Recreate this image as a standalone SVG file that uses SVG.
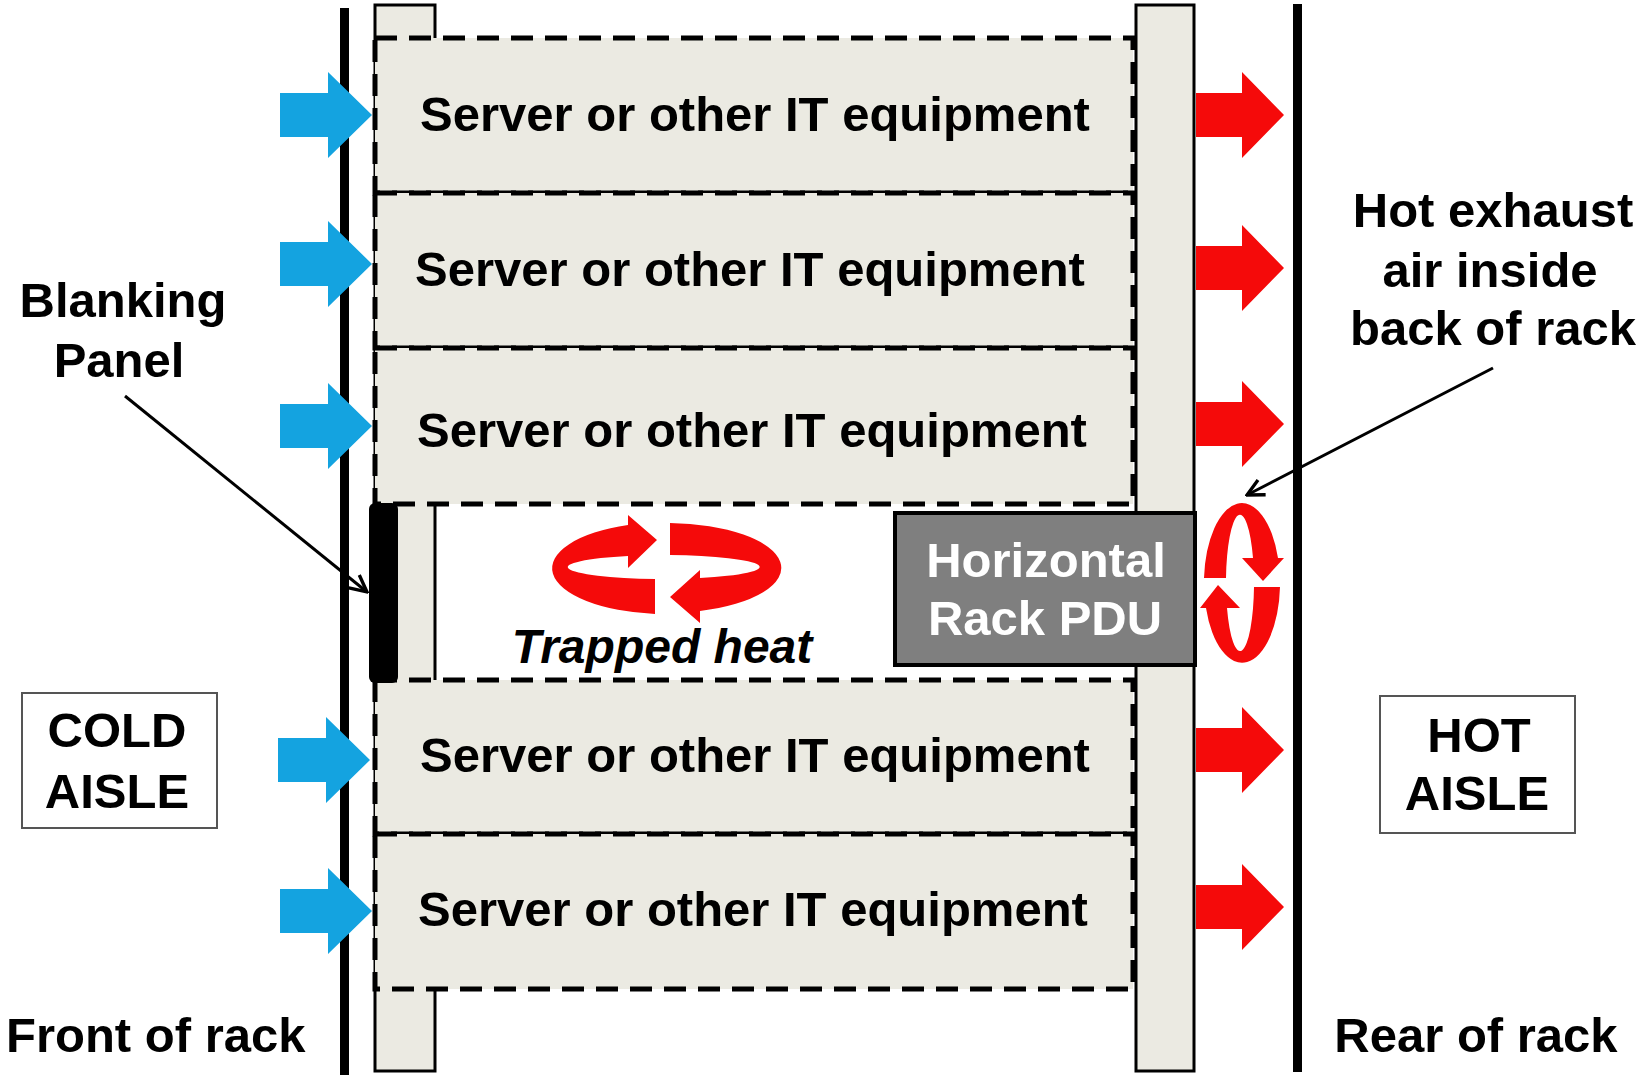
<svg xmlns="http://www.w3.org/2000/svg" width="1639" height="1075" viewBox="0 0 1639 1075">
<style>
.t{font-family:"Liberation Sans",Arial,sans-serif;font-weight:bold;font-size:49px;fill:#000;text-anchor:middle}
.srv{fill:#ebeae2;stroke:#000;stroke-width:5;stroke-dasharray:22 12}
.rail{fill:#ebeae2;stroke:#000;stroke-width:3}
.blue{fill:#14a3e0}
.red{fill:#f50a0a}
.lbl{fill:#fff;stroke:#555;stroke-width:2}
.lead{stroke:#000;stroke-width:3;fill:none}
</style>
<defs>
<marker id="open" viewBox="0 0 12 12" refX="11" refY="6" markerWidth="20" markerHeight="20" markerUnits="userSpaceOnUse" orient="auto">
<path d="M1,1 L11,6 L1,11" fill="none" stroke="#000" stroke-width="2"/>
</marker>
<path id="bArrow" d="M0,-22 L48,-22 L48,-43 L92,0 L48,43 L48,22 L0,22 Z"/>
<path id="rArrow" d="M0,-22 L46,-22 L46,-43 L88,0 L46,43 L46,22 L0,22 Z"/>
</defs>
<rect width="1639" height="1075" fill="#fff"/>

<g id="front-line"><rect x="340" y="8" width="9" height="1067" fill="#000"/></g>
<g id="rear-line"><rect x="1293" y="4" width="9" height="1068" fill="#000"/></g>

<g id="left-rail"><rect class="rail" x="375" y="5" width="60" height="1066"/></g>
<g id="right-rail"><rect class="rail" x="1136" y="5" width="58" height="1066"/></g>

<g id="server1"><rect class="srv" x="375" y="38" width="758" height="155"/>
<text class="t" x="755" y="131">Server or other IT equipment</text></g>
<g id="server2"><rect class="srv" x="375" y="193" width="758" height="155"/>
<text class="t" x="750" y="286">Server or other IT equipment</text></g>
<g id="server3"><rect class="srv" x="375" y="348" width="758" height="156"/>
<text class="t" x="752" y="447">Server or other IT equipment</text></g>
<g id="server5"><rect class="srv" x="375" y="680" width="758" height="154"/>
<text class="t" x="755" y="772">Server or other IT equipment</text></g>
<g id="server6"><rect class="srv" x="375" y="834" width="758" height="155"/>
<text class="t" x="753" y="926">Server or other IT equipment</text></g>

<g id="blanking-panel"><rect x="369" y="503" width="29" height="180" rx="6" fill="#000"/></g>

<g id="pdu"><rect x="895" y="513" width="300" height="152" fill="#7f7f7f" stroke="#000" stroke-width="4"/>
<text class="t" x="1046" y="577" style="fill:#fff">Horizontal</text>
<text class="t" x="1045" y="635" style="fill:#fff">Rack PDU</text></g>

<g id="trapped-heat">
<path class="red" d="M655,614 A115 46 0 0 1 628,525 L628,515 L657,540 L628,568 L628,556 A98 12 0 0 0 655,579 Z"/>
<path class="red" d="M670,523 A115 45 0 0 1 700,611 L700,623 L670,597 L700,570 L700,578 A98 12 0 0 0 670,555 Z"/>
<text class="t" x="662" y="663" style="font-style:italic;font-size:48px">Trapped heat</text>
</g>

<g id="hot-recirculation">
<path class="red" d="M1204,578 A38 80 0 0 1 1278,558 L1284,558 L1263,581 L1242,558 L1253,558 A14 68 0 0 0 1226,578 Z"/>
<path class="red" d="M1280,587 A38 80 0 0 1 1206,608 L1200,608 L1218,585 L1240,608 L1227,608 A14 68 0 0 0 1254,587 Z"/>
</g>

<g id="cold-air">
<use href="#bArrow" class="blue" x="280" y="115"/>
<use href="#bArrow" class="blue" x="280" y="264"/>
<use href="#bArrow" class="blue" x="280" y="426"/>
<use href="#bArrow" class="blue" x="278" y="760"/>
<use href="#bArrow" class="blue" x="280" y="911"/>
</g>
<g id="hot-air">
<use href="#rArrow" class="red" x="1196" y="115"/>
<use href="#rArrow" class="red" x="1196" y="268"/>
<use href="#rArrow" class="red" x="1196" y="424"/>
<use href="#rArrow" class="red" x="1196" y="750"/>
<use href="#rArrow" class="red" x="1196" y="907"/>
</g>

<g id="connectors">
<line class="lead" x1="125" y1="396" x2="367" y2="592" marker-end="url(#open)"/>
<line class="lead" x1="1493" y1="368" x2="1247" y2="495" marker-end="url(#open)"/>
</g>

<g id="blanking-label">
<text class="t" x="123" y="317">Blanking</text>
<text class="t" x="119" y="377">Panel</text>
</g>
<g id="hot-exhaust-label">
<text class="t" x="1493" y="227">Hot exhaust</text>
<text class="t" x="1490" y="287">air inside</text>
<text class="t" x="1493" y="345">back of rack</text>
</g>
<g id="cold-aisle"><rect class="lbl" x="22" y="693" width="195" height="135"/>
<text class="t" x="117" y="747">COLD</text>
<text class="t" x="117" y="808">AISLE</text></g>
<g id="hot-aisle"><rect class="lbl" x="1380" y="696" width="195" height="137"/>
<text class="t" x="1479" y="752">HOT</text>
<text class="t" x="1477" y="810">AISLE</text></g>
<g id="front-label"><text class="t" x="6" y="1052" style="text-anchor:start">Front of rack</text></g>
<g id="rear-label"><text class="t" x="1476" y="1052">Rear of rack</text></g>
</svg>
